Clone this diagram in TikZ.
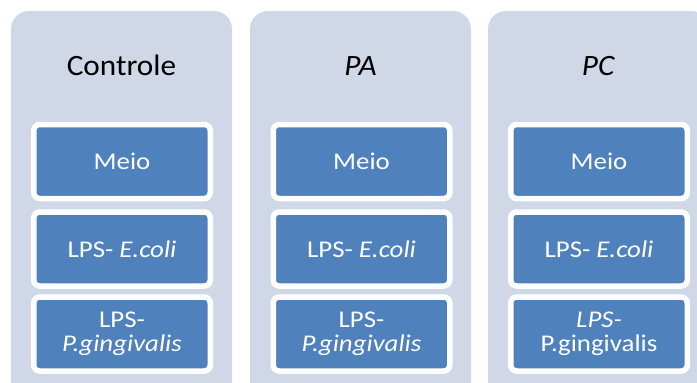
\documentclass[tikz,border=0pt]{standalone}
\usepackage{fontspec}
\setmainfont{Carlito}
\newfontfamily\ttlfont{Carlito}[FakeStretch=1.06]
\newfontfamily\itmfont{Carlito}[FakeStretch=1.12]
\definecolor{outerfill}{HTML}{D0D8E8}
\definecolor{innerfill}{HTML}{4F81BD}
\begin{document}
\begin{tikzpicture}[x=1pt,y=-1pt,
  colbox/.style={fill=outerfill, rounded corners=18pt, minimum width=221pt, minimum height=409pt, inner sep=0pt},
  item/.style={draw=white, line width=5.5pt, fill=innerfill, rounded corners=6pt,
    minimum width=176.5pt, minimum height=74pt, text=white,
    font=\itmfont\fontsize{24}{23.5}\selectfont, align=center, inner sep=0pt},
  title/.style={font=\ttlfont\fontsize{29.5}{32}\selectfont, text=black, anchor=base, inner sep=0pt}]
\useasboundingbox (0,0) rectangle (697,383);
\clip (0,0) rectangle (697,383);
% columns
\node[colbox] (c1) at (121.5,215.5) {};
\node[colbox] (c2) at (360.5,215.5) {};
\node[colbox] (c3) at (598.5,215.5) {};
% titles
\node[title] (t1) at (121.5,75) {Controle};
\node[title] (t2) at (360.5,75) {\textit{PA}};
\node[title] (t3) at (598.5,75) {\textit{PC}};
% column 1
\node[item] (a1) at (122,161.5) {Meio};
\node[item] (a2) at (122,249) {LPS- \textit{E.coli}};
\node[item] (a3) at (122,334) {LPS-\\\textit{P.gingivalis}};
% column 2
\node[item] (b1) at (361.5,161.5) {Meio};
\node[item] (b2) at (361.5,249) {LPS- \textit{E.coli}};
\node[item] (b3) at (361.5,334) {LPS-\\\textit{P.gingivalis}};
% column 3
\node[item] (d1) at (599,161.5) {Meio};
\node[item] (d2) at (599,249) {LPS- \textit{E.coli}};
\node[item] (d3) at (599,334) {\textit{LPS-}\\P.gingivalis};
\end{tikzpicture}
\end{document}
